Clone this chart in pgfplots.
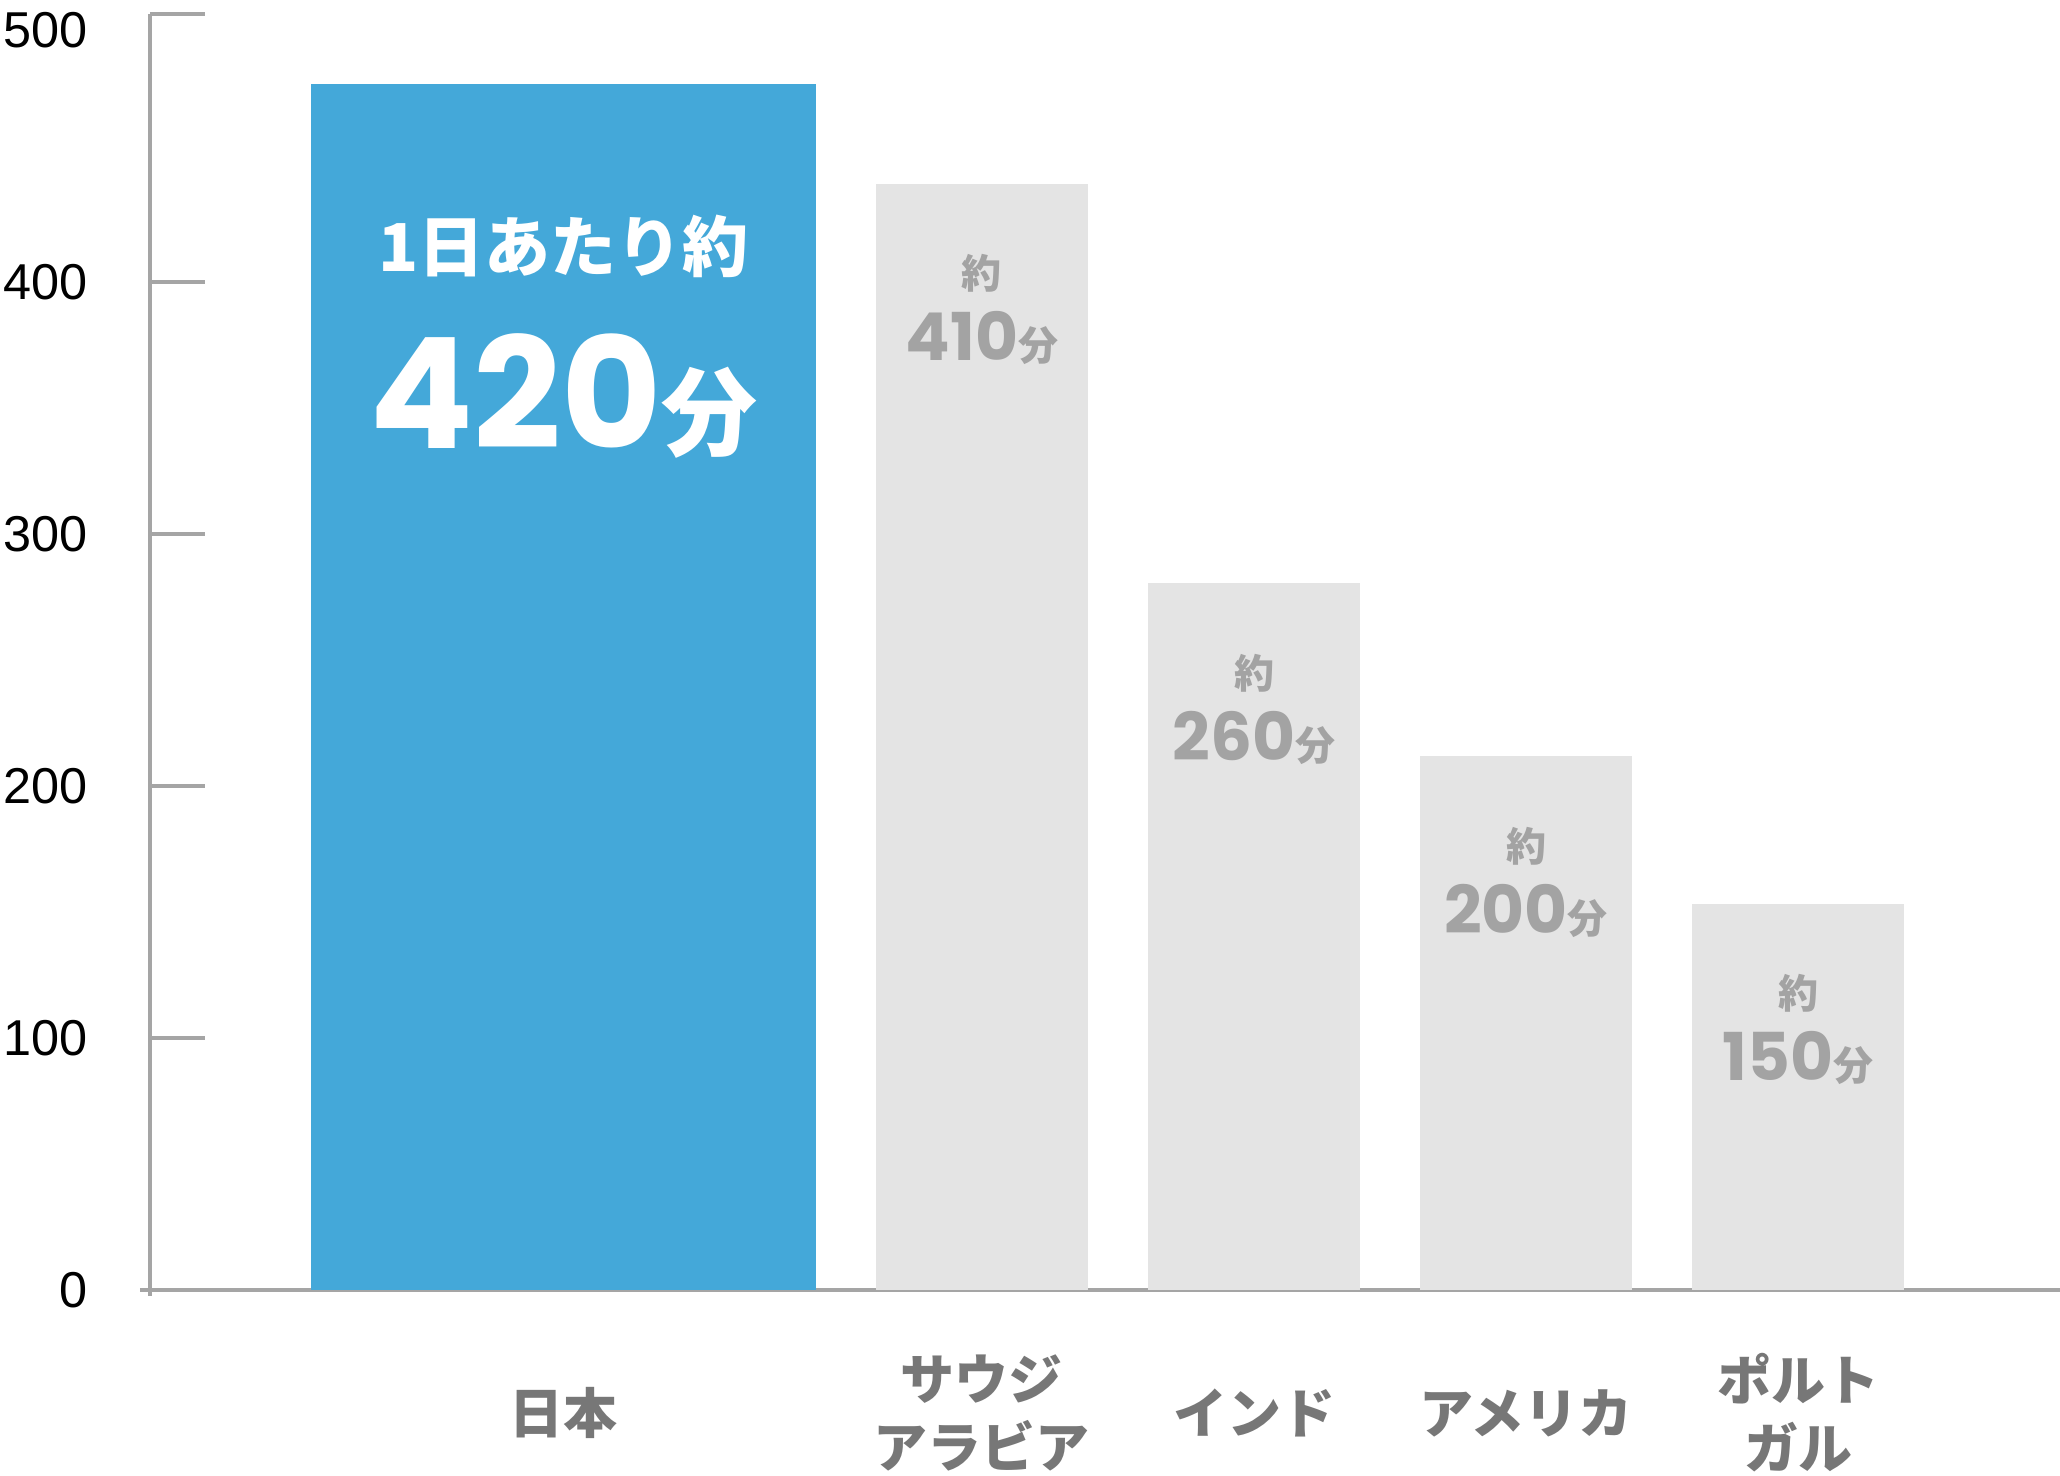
\documentclass[border=0pt]{standalone}
\usepackage{fontspec}
\usepackage{pgfplots}
\pgfplotsset{compat=1.18}
\setmainfont{Liberation Sans}
\newfontfamily\jp{Noto Sans CJK JP}
\newfontfamily\pop{Poppins}
\definecolor{barblue}{HTML}{44A8D9}
\definecolor{bargrey}{HTML}{E4E4E4}
\definecolor{valgrey}{HTML}{A3A3A3}
\definecolor{axgrey}{HTML}{A5A5A5}
\definecolor{catgrey}{HTML}{777777}

% small two-line value label for the grey bars
\newcommand\val[1]{{\jp\bfseries\fontsize{10}{18}\selectfont 約}\\%
  {\pop\bfseries\fontsize{16.5}{18}\selectfont #1}{\jp\bfseries\fontsize{10}{18}\selectfont 分}}

\begin{document}
\begin{tikzpicture}
\useasboundingbox (-37.5pt,-46.5pt) rectangle (477.5pt,322.5pt);
\begin{axis}[
  at={(0pt,0pt)}, anchor=south west,
  x=0.25pt, y=0.63pt,
  xmin=150, xmax=2060, ymin=0, ymax=506.3,
  clip=false,
  axis x line=bottom, axis y line=left,
  axis line style={axgrey, line width=1pt, -},
  x axis line style={shorten <=-2.5pt},
  y axis line style={shorten <=-1.5pt},
  xtick={563.5,982,1254,1526,1798},
  xticklabels={日本, {サウジ\\アラビア}, インド, アメリカ, {ポルト\\ガル}},
  xticklabel style={font=\jp\bfseries\fontsize{13.5}{17}\selectfont, text=catgrey,
    align=center, anchor=center, yshift=-17pt},
  xtick style={draw=none},
  ytick={0,100,200,300,400,506.3},
  yticklabels={,,,,,},
  ytick style={axgrey, line width=1pt},
  major tick length=13.75pt, tick align=inside,
  extra y ticks={0,100,200,300,400,500},
  extra y tick labels={0,100,200,300,400,500},
  extra y tick style={major tick length=0pt, ytick style={draw=none}},
  yticklabel style={font=\fontsize{12.6}{12}\selectfont, text=black,
    anchor=east, inner sep=0pt, xshift=-15.5pt},
  ybar,
]
\addplot[fill=barblue, draw=none, bar width=505, bar shift=0pt,
  nodes near coords={{\jp\bfseries\fontsize{16.5}{44.4}\selectfont 1日あたり約}\\%
    {\pop\bfseries\fontsize{38.5}{44.4}\selectfont 420}{\jp\bfseries\fontsize{24}{44.4}\selectfont 分}},
  every node near coord/.append style={anchor=north, yshift=-32.5pt, inner sep=0pt,
    align=center, text=white, font=\fontsize{16.5}{44.4}\selectfont}]
  coordinates {(563.5,478.6)};
\addplot[fill=bargrey, draw=none, bar width=212, bar shift=0pt,
  nodes near coords={\val{410}},
  every node near coord/.append style={anchor=north, yshift=-17.5pt, inner sep=0pt,
    align=center, text=valgrey, font=\fontsize{10}{18}\selectfont}]
  coordinates {(982,438.9)};
\addplot[fill=bargrey, draw=none, bar width=212, bar shift=0pt,
  nodes near coords={\val{260}},
  every node near coord/.append style={anchor=north, yshift=-17.5pt, inner sep=0pt,
    align=center, text=valgrey, font=\fontsize{10}{18}\selectfont}]
  coordinates {(1254,280.4)};
\addplot[fill=bargrey, draw=none, bar width=212, bar shift=0pt,
  nodes near coords={\val{200}},
  every node near coord/.append style={anchor=north, yshift=-17.5pt, inner sep=0pt,
    align=center, text=valgrey, font=\fontsize{10}{18}\selectfont}]
  coordinates {(1526,211.9)};
\addplot[fill=bargrey, draw=none, bar width=212, bar shift=0pt,
  nodes near coords={\val{150}},
  every node near coord/.append style={anchor=north, yshift=-17.5pt, inner sep=0pt,
    align=center, text=valgrey, font=\fontsize{10}{18}\selectfont}]
  coordinates {(1798,153.2)};
\end{axis}
\end{tikzpicture}
\end{document}
